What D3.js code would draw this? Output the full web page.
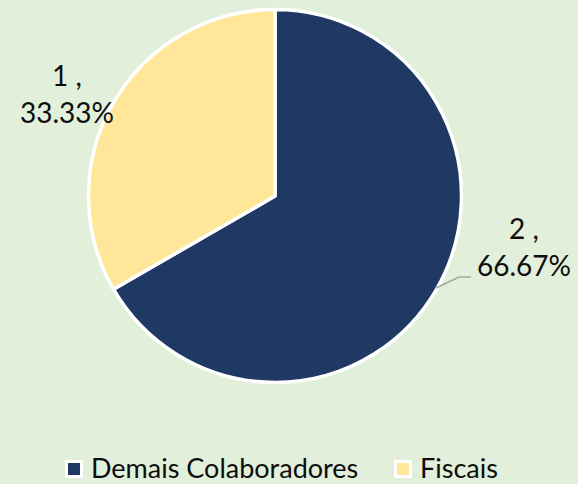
<!DOCTYPE html>
<html>
<head>
<meta charset="utf-8">
<script src="https://cdn.jsdelivr.net/npm/d3@7"></script>
<style>
  html, body { margin: 0; padding: 0; background: #E2EFDA; }
  svg { display: block; font-family: Lato, "Open Sans", sans-serif; }
</style>
</head>
<body>
<svg id="chart" width="578" height="484"></svg>
<script>
// chart data
var categories = ["Demais Colaboradores", "Fiscais"];
var values = [2, 1];
var colors = ["#1F3864", "#FFE699"];

var svg = d3.select("#chart"),
    width = +svg.attr("width"),
    height = +svg.attr("height"),
    cx = 275, cy = 196, radius = 186.5;

svg.append("rect")
    .attr("width", width)
    .attr("height", height)
    .attr("fill", "#E2EFDA");

var total = d3.sum(values);
var data = categories.map(function(c, i) { return {name: c, value: values[i], color: colors[i]}; });

var pie = d3.pie()
    .sort(null)
    .value(function(d) { return d.value; });

var arc = d3.arc()
    .outerRadius(radius)
    .innerRadius(0);

var g = svg.append("g").attr("transform", "translate(" + cx + "," + cy + ")");

var arcs = pie(data);

g.selectAll("path")
  .data(arcs)
  .enter().append("path")
    .attr("d", arc)
    .attr("fill", function(d) { return d.data.color; })
    .attr("stroke", "#fff")
    .attr("stroke-width", 3.5)
    .attr("stroke-linejoin", "round");

// data labels (value , percent) placed outside the slices
var labels = [
  {x: 524, y: 239},  // Demais Colaboradores
  {x: 67, y: 86}     // Fiscais
];

var pct = d3.format(".2f");
var lab = svg.append("g")
    .attr("font-size", 28)
    .attr("fill", "#0D0D0D")
    .attr("text-anchor", "middle");

arcs.forEach(function(d, i) {
  var t = lab.append("text")
      .attr("x", labels[i].x)
      .attr("y", labels[i].y);
  t.append("tspan").attr("x", labels[i].x).text(d.data.value + " ,");
  t.append("tspan").attr("x", labels[i].x).attr("dy", 37)
    .text(pct(d.data.value / total * 100) + "%");
});

// leader line from slice edge to label
var edgeAngle = 2.09; // radians, clockwise from 12 o'clock
var ex = cx + Math.sin(edgeAngle) * (radius - 1),
    ey = cy - Math.cos(edgeAngle) * (radius - 1);
svg.append("polyline")
    .attr("points", [[ex, ey], [459, 277], [471, 277]].map(function(p) { return p.join(","); }).join(" "))
    .attr("fill", "none")
    .attr("stroke", "#A6A6A6")
    .attr("stroke-width", 1.5);

// legend
var legendX = [65, 394];
var legend = svg.append("g")
    .attr("font-size", 27)
    .attr("fill", "#0D0D0D")
  .selectAll("g")
  .data(data)
  .enter().append("g")
    .attr("transform", function(d, i) { return "translate(" + legendX[i] + ",460)"; });

legend.append("rect")
    .attr("x", 1.5)
    .attr("y", 1.5)
    .attr("width", 15)
    .attr("height", 15)
    .attr("fill", function(d) { return d.color; })
    .attr("stroke", "#fff")
    .attr("stroke-width", 3);

legend.append("text")
    .attr("x", 26)
    .attr("y", 17.5)
    .text(function(d) { return d.name; });
</script>
</body>
</html>
